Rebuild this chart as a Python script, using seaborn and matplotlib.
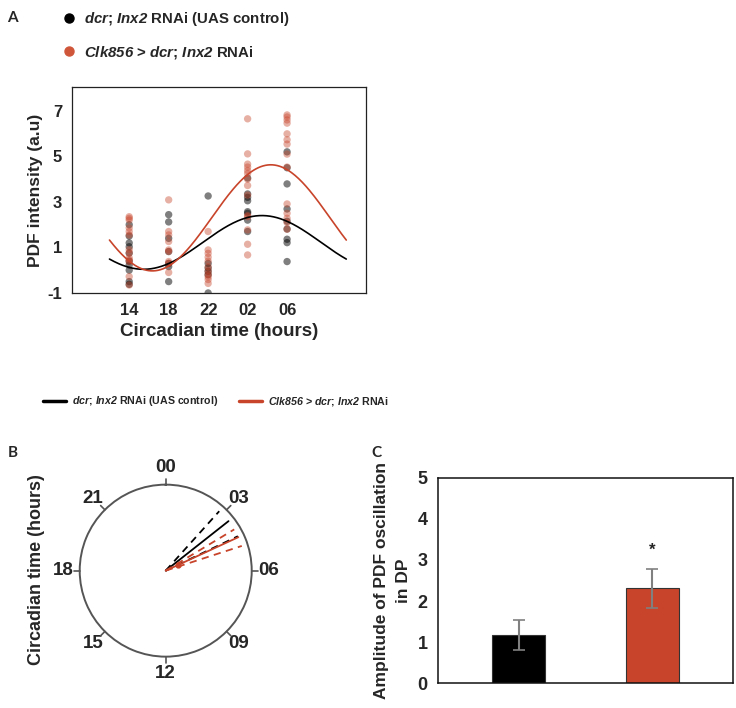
import numpy as np
import pandas as pd
import matplotlib
matplotlib.use("Agg")
import matplotlib.pyplot as plt
import seaborn as sns
from matplotlib.lines import Line2D

# circadian time points (hours, CT02/CT06 shown after midnight)
ct_hours = [14, 18, 22, 26, 30]
ct_labels = ["14", "18", "22", "02", "06"]

# PDF intensity per CT, UAS control
ctrl_ct14 = [2.0, 1.5, 1.2, 1.03, 0.75, 0.4, 0.23, 0.0, -0.5, -0.62]
ctrl_ct18 = [2.44, 2.12, 1.4, 0.82, 0.16, 0.3, -0.5]
ctrl_ct22 = [3.26, 0.3, 0.1, -0.05, -0.2, -1.0]
ctrl_ct02 = [4.05, 3.35, 3.2, 3.05, 2.57, 2.5, 2.2, 1.7]
ctrl_ct06 = [5.2, 4.5, 3.79, 2.69, 2.15, 1.81, 1.36, 1.21, 0.38]

# PDF intensity per CT, Clk856 > dcr; Inx2 RNAi
rnai_ct14 = [2.35, 2.28, 2.2, 1.86, 1.7, 1.55, 0.9, 0.76, 0.54, 0.45, 0.38, -0.28, -0.65]
rnai_ct18 = [3.09, 1.7, 1.55, 1.26, 0.89, 0.82, 0.38, 0.3, -0.1]
rnai_ct22 = [1.7, 0.89, 0.74, 0.57, 0.4, 0.15, -0.03, -0.18, -0.29, -0.41, -0.58]
rnai_ct02 = [6.65, 5.11, 4.66, 4.53, 4.38, 4.25, 4.0, 3.72, 3.3, 2.4, 2.35, 1.77, 1.14, 0.67]
rnai_ct06 = [6.82, 6.73, 6.6, 6.46, 5.99, 5.73, 5.54, 5.1, 4.53, 2.91, 2.5, 2.28, 2.09, 1.8]

# cosinor fit parameters (24 h period)
mesor = [1.22, 2.3]
amplitude = [1.18, 2.33]
acrophase = [3.45, 4.35]          # CT hours
acro_ci_low = [2.8, 3.93]
acro_ci_high = [4.3, 4.8]
vector_len = [0.0, 0.16]

# panel C: amplitude of oscillation
amp_mean = [1.17, 2.31]
amp_err_low = [0.36, 0.49]
amp_err_high = [0.37, 0.47]

genotypes = ["dcr; Inx2 RNAi (UAS control)", "Clk856 > dcr; Inx2 RNAi"]
# italic parts go through mathtext (rm font set to bold italic below)
leg_labels = [r"$\mathrm{dcr}$; $\mathrm{Inx2}$ RNAi (UAS control)",
              r"$\mathrm{Clk856}$ > $\mathrm{dcr}$; $\mathrm{Inx2}$ RNAi"]
colors = ["#000000", "#c8442a"]
clock_hours = [0, 3, 6, 9, 12, 15, 18, 21]
clock_labels = ["00", "03", "06", "09", "12", "15", "18", "21"]

sns.set_theme(style="white")
plt.rcParams["font.family"] = ["Liberation Sans", "DejaVu Sans"]
plt.rcParams["font.weight"] = "bold"
plt.rcParams["mathtext.fontset"] = "custom"
plt.rcParams["mathtext.rm"] = "Liberation Sans:italic:bold"
plt.rcParams["mathtext.it"] = "Liberation Sans:italic:bold"

fig = plt.figure(figsize=(7.36, 7.08), dpi=100)

# ---------------- panel A ----------------
rows = []
for name, lists in [(genotypes[0], [ctrl_ct14, ctrl_ct18, ctrl_ct22, ctrl_ct02, ctrl_ct06]),
                    (genotypes[1], [rnai_ct14, rnai_ct18, rnai_ct22, rnai_ct02, rnai_ct06])]:
    for h, vals in zip(ct_hours, lists):
        for v in vals:
            rows.append({"CT": h, "PDF": v, "Genotype": name})
pts = pd.DataFrame(rows)

axA = fig.add_axes([0.0978, 0.5862, 0.3995, 0.291])
sns.scatterplot(data=pts[pts.Genotype == genotypes[0]], x="CT", y="PDF", color="#000000",
                alpha=0.5, s=28, edgecolor="none", ax=axA, legend=False)
sns.scatterplot(data=pts[pts.Genotype == genotypes[1]], x="CT", y="PDF", color=colors[1],
                alpha=0.42, s=28, edgecolor="none", ax=axA, legend=False)

t = np.linspace(12, 36, 200)
for m, a, ph, c in zip(mesor, amplitude, acrophase, colors):
    fit = pd.DataFrame({"CT": t, "PDF": m + a * np.cos(2 * np.pi * (t - (ph + 24)) / 24)})
    sns.lineplot(data=fit, x="CT", y="PDF", color=c, lw=1.2, ax=axA)

axA.set_xlim(8.2, 38)
axA.set_ylim(-1, 8.05)
axA.set_xticks([10] + ct_hours + [34, 38])
axA.set_xticklabels([""] + ct_labels + ["", ""])
axA.set_yticks([-1, 1, 3, 5, 7])
axA.set_yticklabels(["-1", "1", "3", "5", "7"])
axA.tick_params(direction="out", length=4, width=0.8, labelsize=12, color="#333333", pad=3)
axA.set_xlabel("Circadian time (hours)", fontsize=13.5, fontweight="bold", labelpad=4)
axA.set_ylabel("PDF intensity (a.u)", fontsize=12.5, fontweight="bold", labelpad=3)
for sp in axA.spines.values():
    sp.set_color("#222222")
    sp.set_linewidth(0.9)

dot_handles = [Line2D([], [], marker="o", ls="none", color=c, markersize=6.5) for c in ["#000000", "#d0563a"]]
fig.legend(dot_handles, leg_labels, loc="upper left", bbox_to_anchor=(0.079, 0.986),
           frameon=False, fontsize=10.8, handlelength=1.4, handletextpad=0.3,
           labelspacing=1.05, borderpad=0, borderaxespad=0)

line_handles = [Line2D([], [], color=c, lw=2.5) for c in colors]
fig.legend(line_handles, leg_labels, loc="center left", bbox_to_anchor=(0.058, 0.433),
           frameon=False, fontsize=7.7, ncol=2, handlelength=2.15, handletextpad=0.6,
           columnspacing=1.9, borderpad=0, borderaxespad=0)

# ---------------- panel B ----------------
axB = fig.add_axes([0.1083, 0.0725, 0.2337, 0.243], projection="polar")
axB.set_theta_zero_location("N")
axB.set_theta_direction(-1)
axB.set_ylim(0, 1)
axB.set_yticks([])
axB.grid(False)
clock_theta = np.deg2rad(np.array(clock_hours) * 15)
axB.set_xticks(clock_theta)
axB.set_xticklabels(clock_labels, fontsize=13.5)
axB.tick_params(axis="x", length=0, pad=5)
# outward clock tick marks
for th in clock_theta:
    axB.plot([th, th], [1.0, 1.07], color="#555555", lw=1.2, clip_on=False)
axB.spines["polar"].set_color("#555555")
axB.spines["polar"].set_linewidth(1.4)
for i, c in enumerate(colors):
    th = np.deg2rad(acrophase[i] * 15)
    axB.plot([th, th], [0, 0.93], color=c, lw=1.3)
    for lo in [acro_ci_low[i], acro_ci_high[i]]:
        tl = np.deg2rad(lo * 15)
        axB.plot([tl, tl], [0, 0.93], color=c, lw=1.3, ls=(0, (4, 3)))
    if vector_len[i] > 0:
        axB.plot([th], [vector_len[i]], marker="o", color=c, markersize=3.5)
fig.text(0.05, 1 - 570 / 708, "Circadian time (hours)", rotation=90, ha="center", va="center",
         fontsize=13, fontweight="bold")

# ---------------- panel C ----------------
axC = fig.add_axes([0.5955, 0.0349, 0.4, 0.2904])
bars = pd.DataFrame({"Genotype": genotypes, "Amplitude": amp_mean})
sns.barplot(data=bars, x="Genotype", y="Amplitude", hue="Genotype", palette=colors,
            saturation=1, width=0.4, edgecolor="#333333", linewidth=0.8, legend=False, ax=axC)
axC.errorbar(range(len(amp_mean)), amp_mean, yerr=[amp_err_low, amp_err_high], fmt="none",
             ecolor="#808080", elinewidth=1.5, capsize=4, capthick=1.2)
axC.text(1, amp_mean[1] + amp_err_high[1] + 0.45, "*", ha="center", va="center", fontsize=12)
axC.set_xlim(-0.6, 1.6)
axC.set_ylim(0, 5)
axC.set_yticks(range(6))
axC.set_xticks([])
axC.set_xlabel("")
ylab = axC.set_ylabel("Amplitude of PDF oscillation\nin DP", fontsize=12.5, fontweight="bold",
                      labelpad=5)
ylab.set_linespacing(1.55)
axC.tick_params(axis="y", direction="out", length=4, width=0.8, labelsize=13)
for sp in axC.spines.values():
    sp.set_color("#111111")
    sp.set_linewidth(1.1)

for letter, x, y in [("A", 0.01, 0.985), ("B", 0.01, 0.37), ("C", 0.505, 0.37)]:
    fig.text(x, y, letter, fontsize=11, fontweight="bold", family="Lato", va="top")

fig.savefig("out.png", dpi=100)
